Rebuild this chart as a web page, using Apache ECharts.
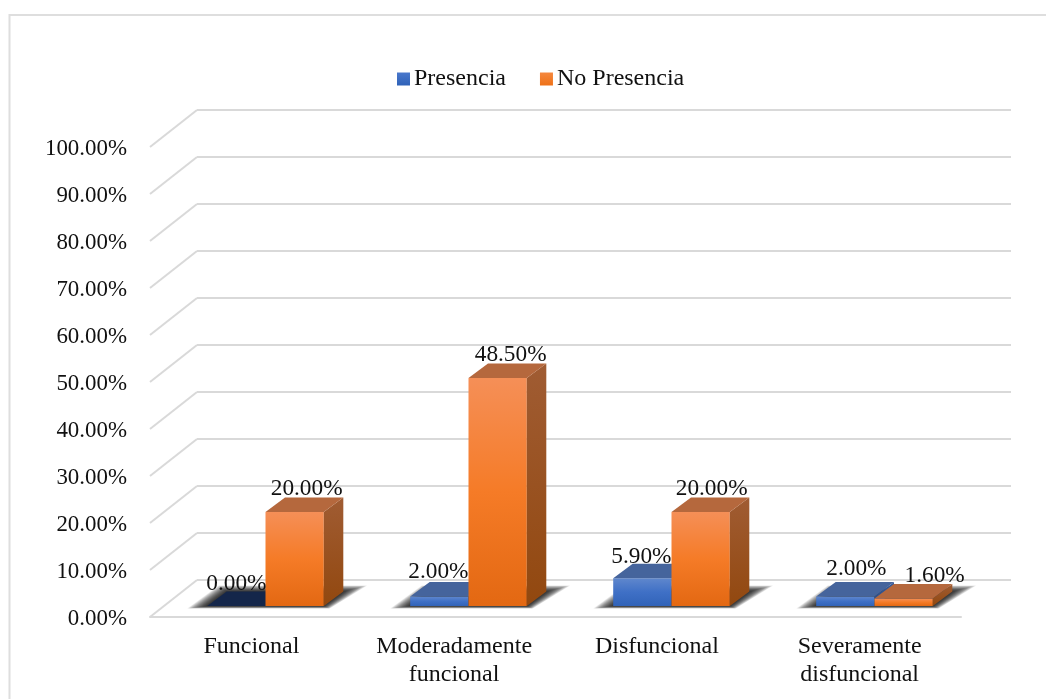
<!DOCTYPE html>
<html>
<head>
<meta charset="utf-8">
<style>html,body{margin:0;padding:0;background:#fff}#c{width:1046px;height:699px}</style>
<script src="https://cdn.jsdelivr.net/npm/echarts@6/dist/echarts.min.js"></script>
</head>
<body>
<div id="c"></div>
<script>
const categories = ['Funcional', 'Moderadamente\nfuncional', 'Disfuncional', 'Severamente\ndisfuncional'];
const presencia = [0, 2, 5.9, 2];
const noPresencia = [20, 48.5, 20, 1.6];
const ticks = [0, 10, 20, 30, 40, 50, 60, 70, 80, 90, 100];

// label nudges [dx, dy] from the centre of each bar's front face
const presenciaLabelNudge = [[0, -22.5], [-1, -24.5], [-1, -21.5], [11, -27.5]];
const noPresenciaLabelNudge = [[12, -23], [13, -23.5], [11, -23], [31, -23]];

const FONT = '"Liberation Serif","Times New Roman",serif';
const FS = 23.3, FS_AXIS = 22.9, FS_TEXT = 24;
const INK = '#111';
const GRID = '#d9d9d9';
const DX = 19.5, DY = -14.5;          // bar depth
const WALL_DX = 47, WALL_DY = -37;    // wall depth
const BAR_W = 58.3;
const SHADOW_LAYERS = 22;

const grad = (a, b, c) => ({
  type: 'linear', x: 0, y: 0, x2: 0, y2: 1,
  colorStops: c ? [{offset: 0, color: a}, {offset: .5, color: b}, {offset: 1, color: c}]
                : [{offset: 0, color: a}, {offset: 1, color: b}]
});
const BLUE = {front: grad('#5f87cd', '#3f70c6', '#3163b8'), top: '#45649c', side: grad('#365c9e', '#27497f'), flat: '#14264a'};
const ORANGE = {front: grad('#f58f57', '#f57b27', '#e36812'), top: '#b5683d', side: grad('#a05c33', '#92480f'), flat: '#b5683d'};

function poly(points, fill) {
  return {type: 'polygon', shape: {points}, style: {fill}};
}

function barRenderer(pal, side) {
  return function (params, api) {
    const i = api.value(0), v = api.value(1);
    const top = api.coord([i, v]), base = api.coord([i, 0]);
    const x0 = side < 0 ? top[0] - BAR_W : top[0];
    const x1 = x0 + BAR_W;
    const yT = top[1], yB = base[1];
    const kids = [];
    if (yB - yT > 0.5) {
      kids.push(poly([[x0, yB], [x1, yB], [x1, yT], [x0, yT]], pal.front));
      kids.push(poly([[x1, yB], [x1 + DX, yB + DY], [x1 + DX, yT + DY], [x1, yT]], pal.side));
    }
    kids.push(poly([[x0, yT], [x1, yT], [x1 + DX, yT + DY], [x0 + DX, yT + DY]],
      yB - yT > 0.5 ? pal.top : pal.flat));
    return {type: 'group', children: kids};
  };
}

function labelRenderer(side, nudge) {
  return function (params, api) {
    const i = api.value(0), v = api.value(1);
    const p = api.coord([i, v]);
    const n = nudge[i];
    return {
      type: 'text',
      style: {
        text: v.toFixed(2) + '%',
        x: p[0] + side * BAR_W / 2 + n[0],
        y: p[1] + n[1],
        align: 'center', verticalAlign: 'middle',
        font: FS + 'px ' + FONT, fill: INK
      }
    };
  };
}

// soft floor shadow: stacked translucent footprints that grow outwards
function shadowRenderer(params, api) {
  const p = api.coord([api.value(0), 0]);
  const l = p[0] - BAR_W, r = p[0] + BAR_W, y = p[1];
  const kids = [];
  for (let k = SHADOW_LAYERS; k >= 1; k--) {
    const t = k / SHADOW_LAYERS;
    const yb = y + 2.5 * t, yt = y + DY - 6 * t;
    kids.push({
      type: 'polygon',
      shape: {points: [[l - 20 * t, yb], [r + 6 * t, yb], [r + DX + 24 * t, yt], [l + DX - 8 * t, yt]]},
      style: {fill: 'rgba(0,0,0,.062)'}
    });
  }
  return {type: 'group', children: kids};
}

function wallRenderer(params, api) {
  const cs = params.coordSys;
  const p = api.coord([0, api.value(0)]);
  return {
    type: 'line',
    shape: {x1: cs.x, y1: p[1], x2: cs.x + WALL_DX, y2: p[1] + WALL_DY},
    style: {stroke: GRID, lineWidth: 2}
  };
}

const barData = a => a.map((v, i) => [i, v]);
const hiddenAxis = {show: false};

const option = {
  animation: false,
  backgroundColor: '#fff',
  textStyle: {fontFamily: FONT},
  graphic: [
    {type: 'polyline', z: 0, shape: {points: [[9.5, 699], [9.5, 15], [1046, 15]]},
     style: {stroke: '#dedede', lineWidth: 2, fill: null}}
  ],
  legend: {
    data: [
      {name: 'Presencia', itemStyle: {color: grad('#4a78cc', '#2f62b8')}},
      {name: 'No Presencia', itemStyle: {color: grad('#f5883f', '#ee7117')}}
    ],
    left: 392, top: 62,
    icon: 'rect', itemWidth: 13, itemHeight: 13, itemGap: 34,
    textStyle: {fontFamily: FONT, fontSize: FS_TEXT, color: INK, padding: [0, 0, 0, -1]},
    selectedMode: false
  },
  grid: [
    {left: 197, width: 814, top: 110, height: 470},   // back wall
    {left: 150, width: 811, top: 147, height: 470},   // front edge
    {left: 164, width: 812, top: 136, height: 470},   // plane of the bars
    {left: 150, width: 811, top: 149, height: 470}    // value labels
  ],
  xAxis: [
    {gridIndex: 0, type: 'category', data: categories, ...hiddenAxis},
    {gridIndex: 1, type: 'category', data: categories,
     axisLine: {show: true, lineStyle: {color: GRID, width: 2}},
     axisTick: {show: false},
     axisLabel: {fontFamily: FONT, fontSize: FS_TEXT, color: INK, lineHeight: 28, margin: 16, interval: 0, verticalAlign: 'top'}},
    {gridIndex: 2, type: 'category', data: categories, ...hiddenAxis},
    {gridIndex: 3, type: 'category', data: categories, ...hiddenAxis}
  ],
  yAxis: [
    {gridIndex: 0, type: 'value', min: 0, max: 100, interval: 10,
     axisLine: {show: false}, axisTick: {show: false}, axisLabel: {show: false},
     splitLine: {show: true, lineStyle: {color: GRID, width: 2, type: 'solid'}}},
    {gridIndex: 1, type: 'value', min: 0, max: 100, interval: 10, ...hiddenAxis},
    {gridIndex: 2, type: 'value', min: 0, max: 100, interval: 10, ...hiddenAxis},
    {gridIndex: 3, type: 'value', min: 0, max: 100, interval: 10,
     axisLine: {show: false}, axisTick: {show: false}, splitLine: {show: false},
     axisLabel: {fontFamily: FONT, fontSize: FS_AXIS, color: INK, margin: 23,
                 formatter: v => v.toFixed(2) + '%'}}
  ],
  series: [
    {type: 'custom', name: 'wall', xAxisIndex: 1, yAxisIndex: 1, z: 1, silent: true, clip: false,
     data: ticks.map(t => [t]), encode: {x: -1, y: 0}, renderItem: wallRenderer},
    {type: 'custom', name: 'shadow', xAxisIndex: 2, yAxisIndex: 2, z: 2, silent: true, clip: false,
     data: categories.map((c, i) => [i, 0]), renderItem: shadowRenderer},
    {type: 'custom', name: 'Presencia', xAxisIndex: 2, yAxisIndex: 2, z: 3, clip: false,
     data: barData(presencia), renderItem: barRenderer(BLUE, -1)},
    {type: 'custom', name: 'No Presencia', xAxisIndex: 2, yAxisIndex: 2, z: 4, clip: false,
     data: barData(noPresencia), renderItem: barRenderer(ORANGE, 1)},
    {type: 'custom', name: 'Presencia labels', xAxisIndex: 2, yAxisIndex: 2, z: 5, silent: true, clip: false,
     data: barData(presencia), renderItem: labelRenderer(-1, presenciaLabelNudge)},
    {type: 'custom', name: 'No Presencia labels', xAxisIndex: 2, yAxisIndex: 2, z: 5, silent: true, clip: false,
     data: barData(noPresencia), renderItem: labelRenderer(1, noPresenciaLabelNudge)}
  ]
};
echarts.init(document.getElementById('c'), null, {renderer: 'canvas'}).setOption(option);
</script>
</body>
</html>
